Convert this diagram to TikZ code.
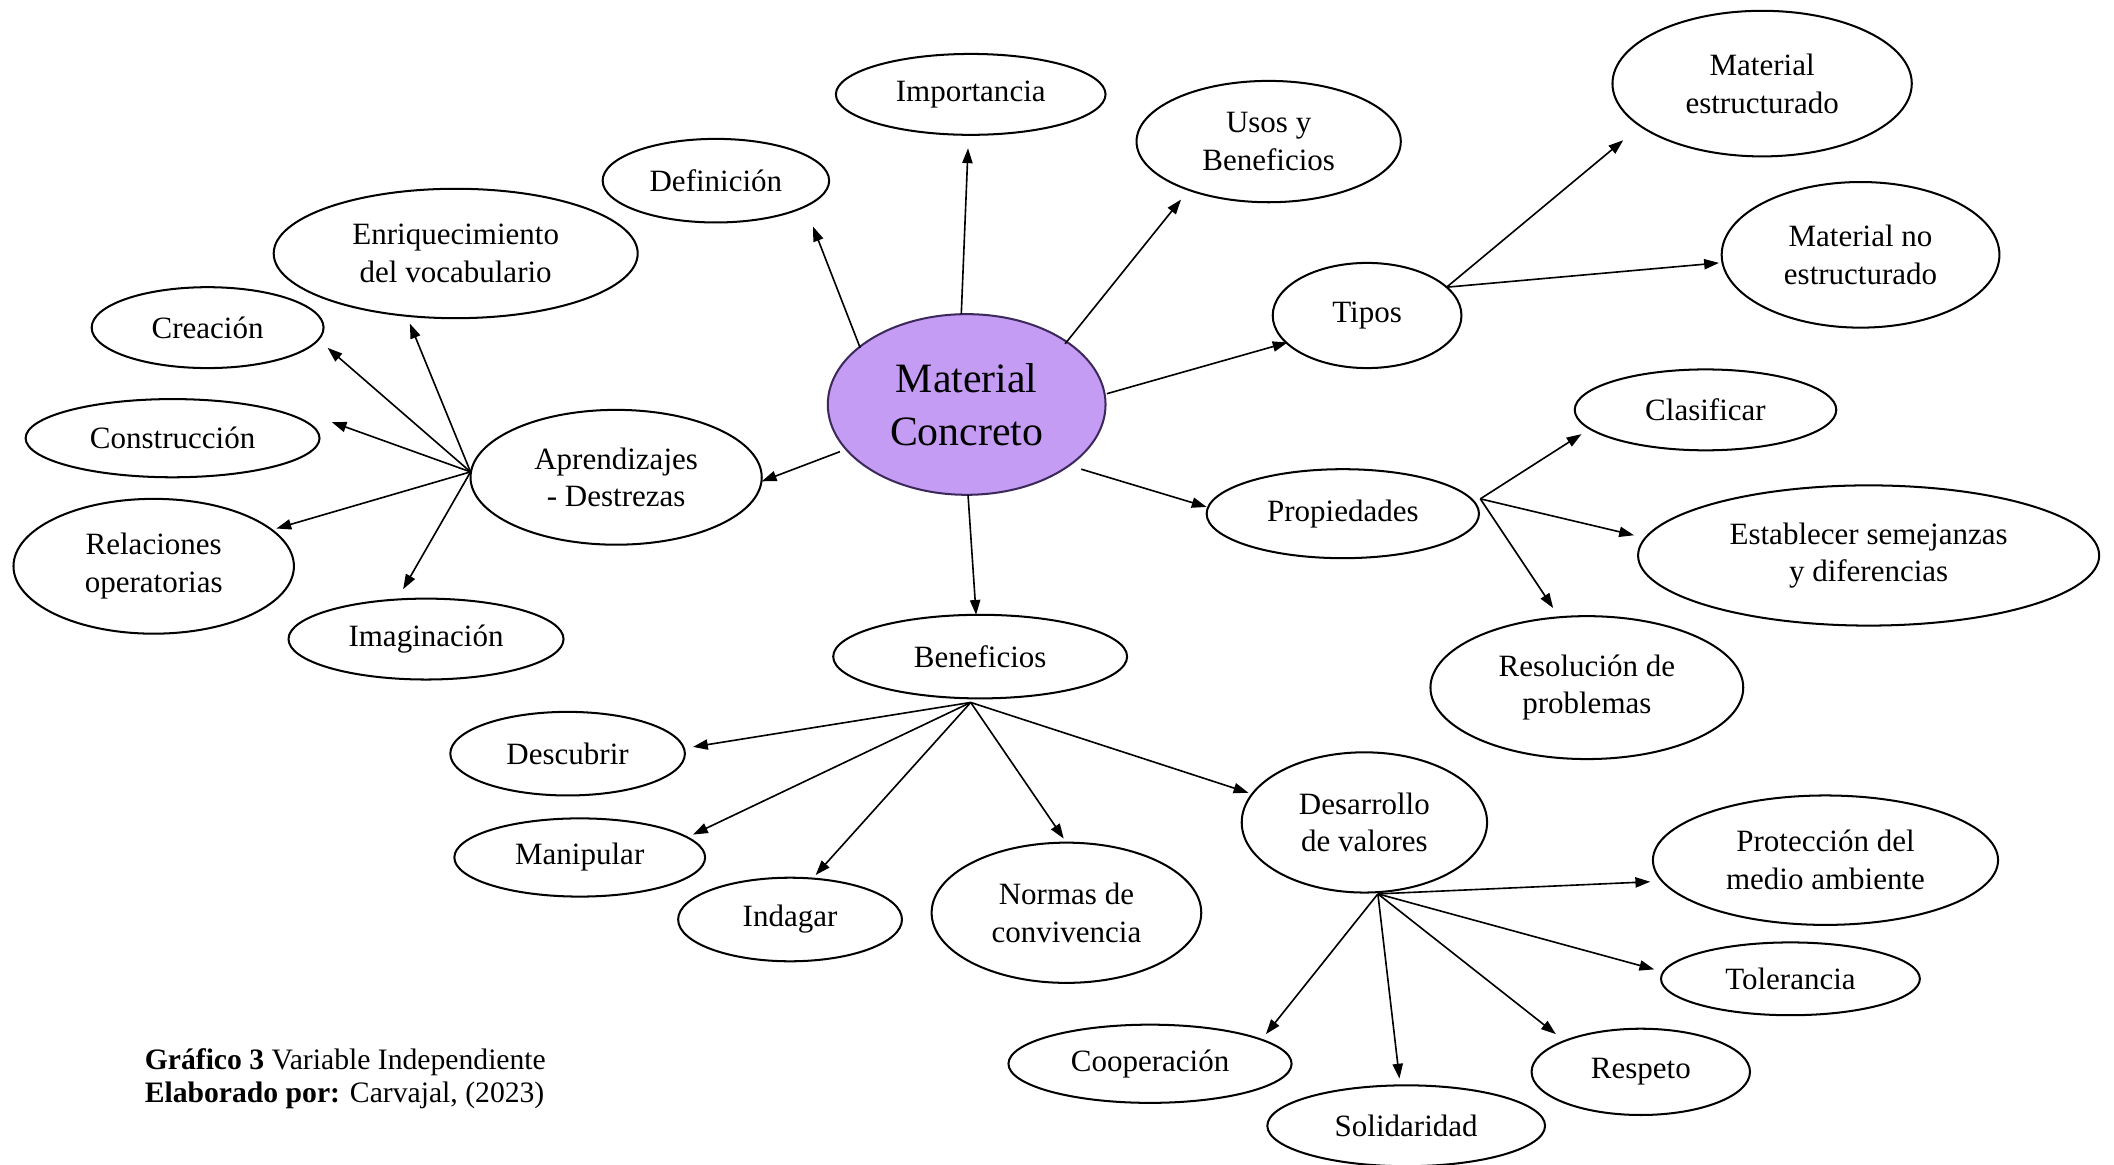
\documentclass[tikz,border=0pt]{standalone}
\usepackage{fontspec}
\setmainfont{Liberation Serif}
\usetikzlibrary{shapes.geometric,arrows.meta,calc}
\definecolor{mcfill}{RGB}{196,156,244}
\definecolor{mcline}{RGB}{60,40,90}
\begin{document}
\begin{tikzpicture}[x=0.5pt,y=-0.5pt,
  el/.style={ellipse,draw,line width=0.75pt,inner sep=0pt,align=center,font=\fontsize{11.5}{14}\selectfont},
  mcstyle/.style={ellipse,draw=mcline,fill=mcfill,line width=0.75pt,inner sep=0pt,align=center,font=\fontsize{15.5}{19.5}\selectfont},
  arr/.style={-{Triangle[length=5.5pt,width=3.8pt]},line width=0.6pt},
  captxt/.style={anchor=west,align=left,font=\fontsize{11}{12}\selectfont,inner sep=0pt}]
\useasboundingbox (0,0) rectangle (1568,864);
\fill[white] (0,0) rectangle (1568,864);
% nodes
\node[mcstyle,minimum width=103pt,minimum height=67pt] (mc) at (717,300) {Material\\Concreto};
\node[el,minimum width=100pt,minimum height=30pt] (imp) at (720,70) {Importancia};
\node[el,minimum width=84pt,minimum height=31pt] (def) at (531,134) {Definición};
\node[el,minimum width=98pt,minimum height=45pt] (usos) at (941,105) {Usos y\\Beneficios};
\node[el,minimum width=111pt,minimum height=54pt] (me) at (1307,62) {Material\\estructurado};
\node[el,minimum width=103pt,minimum height=54pt] (mne) at (1380,189) {Material no\\estructurado};
\node[el,minimum width=70pt,minimum height=39pt] (tip) at (1014,234) {Tipos};
\node[el,minimum width=97pt,minimum height=30pt] (cla) at (1265,304) {Clasificar};
\node[el,minimum width=101pt,minimum height=33pt] (pro) at (996,381) {Propiedades};
\node[el,minimum width=171pt,minimum height=52pt] (est) at (1386,412) {Establecer semejanzas\\y diferencias};
\node[el,minimum width=116pt,minimum height=53pt] (res) at (1177,510) {Resolución de\\problemas};
\node[el,minimum width=135pt,minimum height=48pt] (enr) at (338,188) {Enriquecimiento\\del vocabulario};
\node[el,minimum width=86pt,minimum height=30pt] (cre) at (154,243) {Creación};
\node[el,minimum width=109pt,minimum height=29pt] (con) at (128,325) {Construcción};
\node[el,minimum width=108pt,minimum height=50pt] (apr) at (457,354) {Aprendizajes\\- Destrezas};
\node[el,minimum width=104pt,minimum height=50pt] (rel) at (114,420) {Relaciones\\operatorias};
\node[el,minimum width=102pt,minimum height=30pt] (ima) at (316,474) {Imaginación};
\node[el,minimum width=109pt,minimum height=31pt] (ben) at (727,487) {Beneficios};
\node[el,minimum width=87pt,minimum height=31pt] (des) at (421,559) {Descubrir};
\node[el,minimum width=93pt,minimum height=29pt] (man) at (430,636) {Manipular};
\node[el,minimum width=83pt,minimum height=31pt] (ind) at (586,682) {Indagar};
\node[el,minimum width=100pt,minimum height=52pt] (nor) at (791,677) {Normas de\\convivencia};
\node[el,minimum width=91pt,minimum height=52pt] (dva) at (1012,610) {Desarrollo\\de valores};
\node[el,minimum width=128pt,minimum height=48pt] (pma) at (1354,638) {Protección del\\medio ambiente};
\node[el,minimum width=96pt,minimum height=27pt] (tol) at (1328,726) {Tolerancia};
\node[el,minimum width=81pt,minimum height=32pt] (resp) at (1217,795) {Respeto};
\node[el,minimum width=103pt,minimum height=30pt] (sol) at (1043,835) {Solidaridad};
\node[el,minimum width=105pt,minimum height=29pt] (coo) at (853,789) {Cooperación};
\node[captxt] (caption) at (107,800) {\textbf{Gráfico 3} Variable Independiente\\\textbf{Elaborado por:} Carvajal, (2023)};
% hubs
\coordinate (aph) at ($(apr)+(-108,-4)$);
\coordinate (tih) at ($(tip)+(59,-21)$);
\coordinate (prh) at ($(pro)+(102,-11)$);
\coordinate (beh) at ($(ben)+(-7,34)$);
\coordinate (dvh) at ($(dva)+(10,53)$);
% central arrows
\draw[arr] ($(mc)+(-79,-42)$) -- ($(def)+(72,34)$);
\draw[arr] ($(mc)+(-4,-67)$) -- ($(imp)+(-2,40)$);
\draw[arr] ($(mc)+(73,-45)$) -- ($(usos)+(-65,43)$);
\draw[arr] ($(mc)+(104,-8)$) -- ($(tip)+(-59,20)$);
\draw[arr] ($(mc)+(85,48)$) -- ($(pro)+(-101,-5)$);
\draw[arr] ($(mc)+(1,67)$) -- ($(ben)+(-3,-31)$);
\draw[arr] ($(mc)+(-94,35)$) -- ($(apr)+(108,3)$);
% aprendizajes
\draw[arr] (aph) -- ($(enr)+(-34,52)$);
\draw[arr] (aph) -- ($(cre)+(89,15)$);
\draw[arr] (aph) -- ($(con)+(118,-12)$);
\draw[arr] (aph) -- ($(rel)+(91,-28)$);
\draw[arr] (aph) -- ($(ima)+(-17,-37)$);
% tipos
\draw[arr] (tih) -- ($(me)+(-103,42)$);
\draw[arr] (tih) -- ($(mne)+(-105,6)$);
% propiedades
\draw[arr] (prh) -- ($(cla)+(-92,18)$);
\draw[arr] (prh) -- ($(est)+(-174,-15)$);
\draw[arr] (prh) -- ($(res)+(-25,-59)$);
% beneficios
\draw[arr] (beh) -- ($(des)+(93,-5)$);
\draw[arr] (beh) -- ($(man)+(84,-17)$);
\draw[arr] (beh) -- ($(ind)+(19,-33)$);
\draw[arr] (beh) -- ($(nor)+(-2,-55)$);
\draw[arr] (beh) -- ($(dva)+(-86,-22)$);
% desarrollo
\draw[arr] (dvh) -- ($(pma)+(-130,16)$);
\draw[arr] (dvh) -- ($(tol)+(-101,-7)$);
\draw[arr] (dvh) -- ($(resp)+(-63,-28)$);
\draw[arr] (dvh) -- ($(sol)+(-5,-35)$);
\draw[arr] (dvh) -- ($(coo)+(86,-22)$);
\end{tikzpicture}
\end{document}
